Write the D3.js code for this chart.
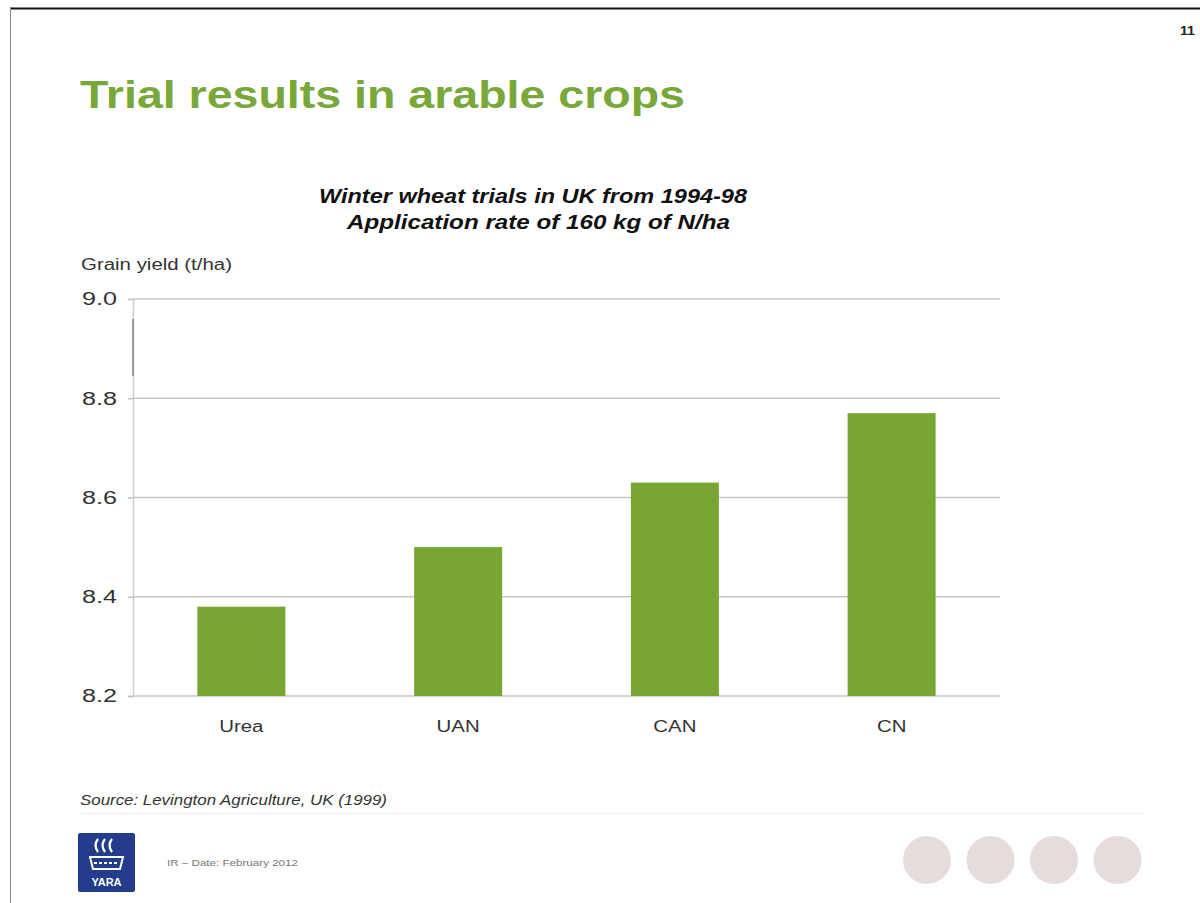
<!DOCTYPE html>
<html><head><meta charset="utf-8">
<script src="https://cdn.jsdelivr.net/npm/d3@7"></script>
<style>html,body{margin:0;padding:0;background:#fff;}svg{display:block;}</style>
</head><body>
<svg id="c" width="1200" height="903"></svg>
<script>
const categories = ["Urea", "UAN", "CAN", "CN"];
const yields = [8.38, 8.50, 8.63, 8.77];
const yTicks = [8.2, 8.4, 8.6, 8.8, 9.0];
const titleText = "Trial results in arable crops";
const subtitleLines = ["Winter wheat trials in UK from 1994-98", "Application rate of 160 kg of N/ha"];
const yLabel = "Grain yield (t/ha)";
const sourceText = "Source: Levington Agriculture, UK (1999)";
const footerText = "IR \u2013 Date: February 2012";
const pageNumber = "11";
const navDots = [0, 1, 2, 3];

const svg = d3.select("#c");
const font = "Arial, 'Liberation Sans', Helvetica, sans-serif";
// horizontal stretch of the slide image
const stretch = (sel, w) => sel.attr("textLength", w).attr("lengthAdjust", "spacingAndGlyphs");

// slide frame
svg.append("line").attr("x1", 10).attr("x2", 1200).attr("y1", 8.5).attr("y2", 8.5).attr("stroke", "#111").attr("stroke-width", 2);
svg.append("line").attr("x1", 10.5).attr("x2", 10.5).attr("y1", 8).attr("y2", 903).attr("stroke", "#888").attr("stroke-width", 1);
svg.append("text").attr("x", 1180).attr("y", 35).attr("font-family", font).attr("font-weight", "bold")
  .attr("font-size", 12).attr("fill", "#222").text(pageNumber).call(stretch, 15);

// title
svg.append("text").attr("x", 80).attr("y", 108).attr("font-family", font).attr("font-weight", "bold")
  .attr("font-size", 38).attr("fill", "#78a83a").text(titleText).call(stretch, 605);

// subtitle
const subW = [428, 383];
svg.append("g").selectAll("text").data(subtitleLines).join("text")
  .attr("x", (d, i) => [319, 347][i]).attr("y", (d, i) => 203 + i * 26)
  .attr("font-family", font).attr("font-style", "italic").attr("font-weight", "bold")
  .attr("font-size", 21).attr("fill", "#111").text(d => d)
  .attr("textLength", (d, i) => subW[i]).attr("lengthAdjust", "spacingAndGlyphs");

// chart
const x0 = 133, x1 = 1000, yTop = 299, yBot = 696;
const x = d3.scaleBand().domain(categories).range([x0, x1]).paddingInner(0.594).paddingOuter(0.297);
const y = d3.scaleLinear().domain([8.2, 9.0]).range([yBot, yTop]);

svg.append("text").attr("x", 81).attr("y", 270).attr("font-family", font).attr("font-size", 16)
  .attr("fill", "#333").text(yLabel).call(stretch, 151);

const yAxis = svg.append("g").attr("transform", `translate(${x0},0)`)
  .call(d3.axisLeft(y).tickValues(yTicks).tickFormat(d3.format(".1f")).tickSize(5).tickPadding(11));
yAxis.select(".domain").attr("stroke", "#cfcfcf").attr("stroke-width", 1.5);
yAxis.selectAll(".tick line").attr("stroke", "#c0c0c0").attr("stroke-width", 1.5);
yAxis.selectAll(".tick text").attr("font-family", font).attr("font-size", 18).attr("fill", "#333")
  .attr("textLength", 35).attr("lengthAdjust", "spacingAndGlyphs");
// dark artefact segment on the axis near the top
svg.append("line").attr("x1", x0).attr("x2", x0).attr("y1", y(8.96)).attr("y2", y(8.845))
  .attr("stroke", "#555").attr("stroke-width", 1);

// gridlines
svg.append("g").selectAll("line").data(yTicks).join("line")
  .attr("x1", x0).attr("x2", x1).attr("y1", d => y(d)).attr("y2", d => y(d))
  .attr("stroke", "#c6c6c6").attr("stroke-width", 1.5);

// bars
svg.append("g").selectAll("rect").data(categories).join("rect")
  .attr("x", d => x(d)).attr("width", x.bandwidth())
  .attr("y", (d, i) => y(yields[i])).attr("height", (d, i) => yBot - y(yields[i]))
  .attr("fill", "#77a632");

// x axis labels
const xAxis = svg.append("g").attr("transform", `translate(0,${yBot})`)
  .call(d3.axisBottom(x).tickSize(0).tickPadding(24));
xAxis.select(".domain").remove();
xAxis.selectAll(".tick text").attr("font-family", font).attr("font-size", 17).attr("fill", "#333")
  .attr("dy", "0").attr("y", 36).attr("transform", "scale(1.2,1)");

// source
svg.append("text").attr("x", 80).attr("y", 805).attr("font-family", font).attr("font-style", "italic")
  .attr("font-size", 14).attr("fill", "#333").text(sourceText).call(stretch, 307);
svg.append("line").attr("x1", 80).attr("x2", 1145).attr("y1", 813.5).attr("y2", 813.5).attr("stroke", "#eeeeee").attr("stroke-width", 1);

// logo
const logo = svg.append("g").attr("transform", "translate(78,833)");
logo.append("rect").attr("width", 57).attr("height", 59).attr("rx", 2).attr("fill", "#233c8c");
[0, 1, 2].forEach(i => {
  logo.append("path").attr("d", `M${20 + i * 7},6 q-5,6 0,13`).attr("stroke", "#fff").attr("stroke-width", 2.2).attr("fill", "none");
});
logo.append("path").attr("d", "M12,24 L45,24 L42,36 L15,36 Z").attr("fill", "none").attr("stroke", "#fff").attr("stroke-width", 2);
logo.append("line").attr("x1", 16).attr("x2", 41).attr("y1", 30).attr("y2", 30).attr("stroke", "#fff").attr("stroke-width", 2).attr("stroke-dasharray", "3,2");
logo.append("text").attr("x", 28.5).attr("y", 53).attr("text-anchor", "middle").attr("font-family", font)
  .attr("font-weight", "bold").attr("font-size", 11).attr("fill", "#fff").text("YARA");

svg.append("text").attr("x", 167).attr("y", 866).attr("font-family", font).attr("font-size", 9)
  .attr("fill", "#777").text(footerText).call(stretch, 131);

// nav dots
svg.append("g").selectAll("circle").data(navDots).join("circle")
  .attr("cx", d => 927 + d * 63.5).attr("cy", 860).attr("r", 24).attr("fill", "#e6dcdc");
</script>
</body></html>
